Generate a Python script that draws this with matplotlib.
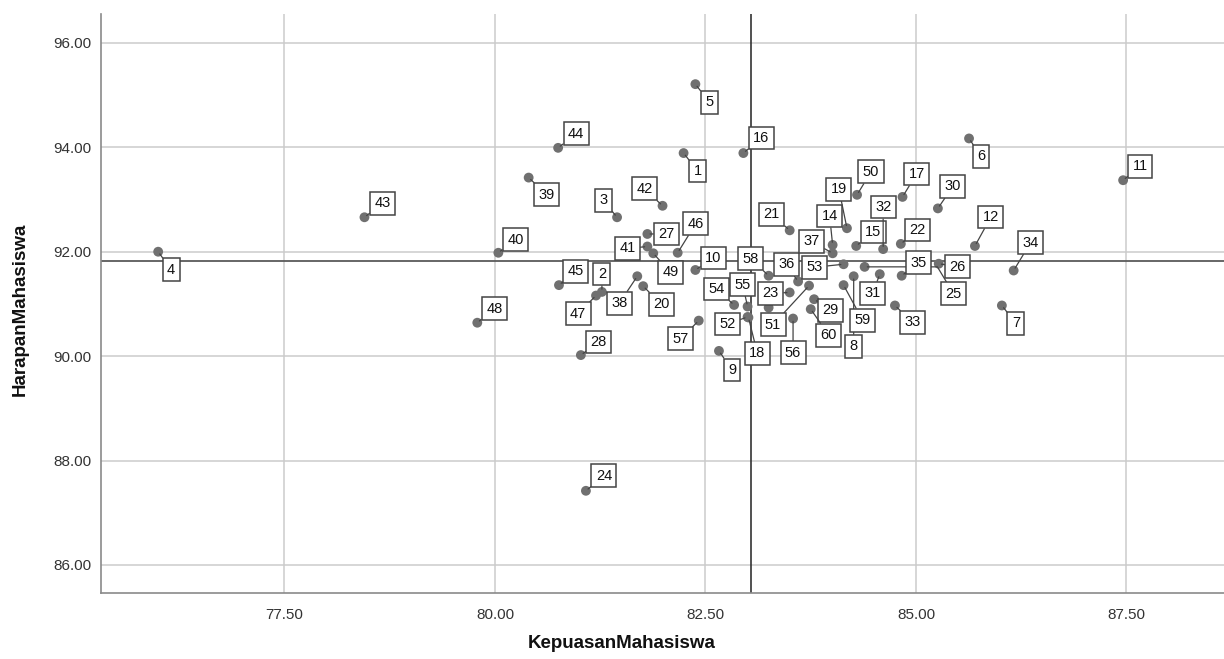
import matplotlib
matplotlib.use("Agg")
import matplotlib.pyplot as plt

# ---------------- data ----------------
ids = list(range(1, 61))
kepuasan = [82.24, 81.27, 81.45, 76.00, 82.38, 85.63, 86.02, 84.26, 82.66, 82.38,
            87.46, 85.70, 83.25, 84.01, 84.29, 82.95, 84.84, 83.01, 84.18, 81.76,
            83.50, 84.82, 83.50, 81.08, 84.39, 85.27, 81.81, 81.02, 83.79, 85.26,
            84.57, 84.61, 84.75, 86.16, 84.83, 83.60, 84.01, 81.69, 80.40, 80.04,
            81.81, 81.99, 78.45, 80.75, 80.76, 82.17, 81.20, 79.79, 81.88, 84.30,
            83.73, 83.00, 84.14, 82.84, 83.00, 83.54, 82.42, 83.25, 84.14, 83.75]
harapan = [93.89, 91.23, 92.66, 92.00, 95.21, 94.17, 90.97, 91.53, 90.10, 91.65,
           93.37, 92.11, 90.93, 92.13, 92.11, 93.89, 93.05, 90.74, 92.45, 91.34,
           92.41, 92.15, 91.22, 87.42, 91.71, 91.77, 92.34, 90.02, 91.09, 92.83,
           91.57, 92.05, 90.97, 91.64, 91.54, 91.43, 91.97, 91.53, 93.42, 91.98,
           92.10, 92.88, 92.66, 93.99, 91.36, 91.98, 91.16, 90.64, 91.97, 93.09,
           91.35, 90.75, 91.76, 90.98, 90.95, 90.72, 90.68, 91.54, 91.36, 90.90]
hidden_labels = [13]
x_ticks = [77.5, 80.0, 82.5, 85.0, 87.5]
y_ticks = [86.0, 88.0, 90.0, 92.0, 94.0, 96.0]
x_ref = 83.04   # reference line (mean) on x
y_ref = 91.83   # reference line (mean) on y

# label placement offsets (pixels, right / down) -- layout only
label_offsets = {
    1: (14, 18), 2: (0, -18), 3: (-14, -17), 4: (13, 18), 5: (14, 18),
    6: (12, 18), 7: (14, 18), 8: (0, 70), 9: (13, 19), 10: (18, -12),
    11: (17, -14), 12: (16, -29), 14: (-3, -29), 15: (17, -14),
    16: (18, -15), 17: (14, -23), 18: (9, 36), 19: (-8, -39), 20: (18, 18),
    21: (-18, -16), 22: (17, -14), 23: (-19, 1), 24: (18, -15), 25: (89, 27),
    26: (19, 3), 27: (19, 0), 28: (18, -13), 29: (16, 11), 30: (15, -22),
    31: (-7, 19), 32: (0, -42), 33: (18, 17), 34: (17, -28), 35: (17, -13),
    36: (-12, -17), 37: (-21, -12), 38: (-18, 27), 39: (18, 17), 40: (17, -13),
    41: (-20, 2), 42: (-18, -17), 43: (18, -14), 44: (18, -14), 45: (17, -14),
    46: (18, -29), 47: (-18, 18), 48: (17, -14), 49: (17, 19), 50: (14, -23),
    51: (-36, 39), 52: (-20, 7), 53: (-29, 3), 54: (-18, -16), 55: (-5, -22),
    56: (0, 34), 57: (-18, 18), 58: (-18, -17), 59: (19, 35), 60: (18, 26),
}

# ---------------- figure ----------------
W, H = 1224, 659
fig = plt.figure(figsize=(W / 100, H / 100), dpi=100)
plt.rcParams["font.family"] = ["Liberation Sans", "DejaVu Sans"]

ax_l, ax_r, ax_t, ax_b = 101, 1224, 14, 593
ax = fig.add_axes([ax_l / W, 1 - ax_b / H, (ax_r - ax_l) / W, (ax_b - ax_t) / H])

ax.set_xlim(75.321, 88.658)
ax.set_ylim(85.462, 96.554)

ax.set_xticks(x_ticks)
ax.set_xticklabels([f"{v:.2f}" for v in x_ticks])
ax.set_yticks(y_ticks)
ax.set_yticklabels([f"{v:.2f}" for v in y_ticks])
ax.tick_params(length=0, labelsize=11, colors="#333333", pad=7)
ax.tick_params(axis="x", pad=11)

ax.grid(True, color="#cbcbcb", linewidth=1.1, zorder=0)
ax.set_axisbelow(True)
for s in ["top", "right"]:
    ax.spines[s].set_visible(False)
for s in ["left", "bottom"]:
    ax.spines[s].set_color("#8a8a8a")
    ax.spines[s].set_linewidth(1.2)

ax.axvline(x_ref, color="#333333", linewidth=1.2, zorder=2)
ax.axhline(y_ref, color="#5a5a5a", linewidth=1.3, zorder=2)

ax.scatter(kepuasan, harapan, s=50, color="#707070", edgecolors="none", zorder=3)

px2pt = 0.72
for i, x, y in zip(ids, kepuasan, harapan):
    if i in hidden_labels:
        continue
    dx, dy = label_offsets[i]
    cs = "arc3"
    if i == 25:
        cs = "angle,angleA=121,angleB=0,rad=0"
    ax.annotate(str(i), xy=(x, y), xytext=(dx * px2pt, -dy * px2pt),
                textcoords="offset points", ha="center", va="center",
                fontsize=10.5, color="#111111",
                bbox=dict(boxstyle="square,pad=0.3", fc="white", ec="#444444", lw=1.1),
                arrowprops=dict(arrowstyle="-", color="#444444", lw=0.9,
                                shrinkA=0, shrinkB=2, connectionstyle=cs),
                zorder=5)

fig.text(622 / W, 1 - 644 / H, "KepuasanMahasiswa", ha="center", va="center",
         fontsize=13.5, fontweight="bold", color="#111111")
fig.text(20 / W, 1 - 309 / H, "HarapanMahasiswa", ha="center", va="center",
         rotation=90, fontsize=13.5, fontweight="bold", color="#111111")

fig.savefig("out.png", dpi=100)
